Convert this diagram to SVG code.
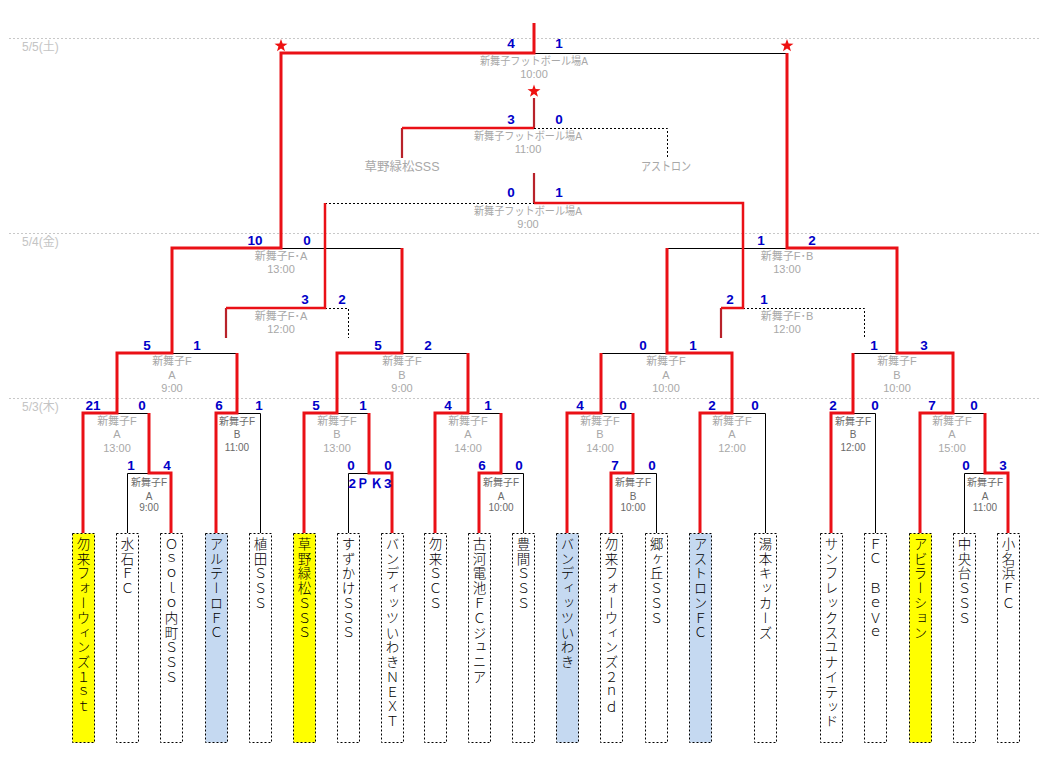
<svg xmlns="http://www.w3.org/2000/svg" width="1052" height="758" viewBox="0 0 1052 758">
<style>
.bg{fill:#fff}
.grid{stroke:#c8c8c8;stroke-width:1;stroke-dasharray:2 2;fill:none}
.date{font-family:"Liberation Sans","Noto Sans CJK JP",sans-serif;font-size:12px;fill:#c4c4c4}
.K{stroke:#000;stroke-width:1;fill:none}
.D{stroke:#000;stroke-width:1;stroke-dasharray:2 2;fill:none}
.R{stroke:#ea1016;stroke-width:3;fill:none}
.R2{stroke:#ea1016;stroke-width:2.5;fill:none}
.r{stroke:#b8222a;stroke-width:2.2;fill:none}
.sc{font-family:"Liberation Sans",sans-serif;font-weight:bold;font-size:13.5px;fill:#0000c8;text-anchor:middle}
.lb{font-family:"Liberation Sans","Noto Sans CJK JP",sans-serif;font-size:11px;fill:#a8a8a8;text-anchor:middle;dominant-baseline:central}
.dk{font-family:"Liberation Sans","Noto Sans CJK JP",sans-serif;font-size:10px;fill:#6a6a6a;text-anchor:middle;dominant-baseline:central}
.gt{font-family:"Liberation Sans","Noto Sans CJK JP",sans-serif;font-size:12.5px;fill:#a8a8a8;text-anchor:middle;dominant-baseline:central}
.box{stroke:#000;stroke-width:1;stroke-dasharray:2 2;fill:#fff}
.y{fill:#ffff00}
.b{fill:#c5d9f1}
.tm{font-family:"Noto Sans CJK JP",sans-serif;font-size:13.5px;font-weight:300;fill:#000;writing-mode:vertical-rl;letter-spacing:1.3px}
.star{fill:#ee1111}
</style>
<rect class="bg" x="0" y="0" width="1052" height="758"/>

<g id="dates">
<path class="grid" d="M9,38.5 H1040 M9,233.5 H1040 M9,398.5 H1040"/>
<text class="date" x="22" y="51">5/5(土)</text>
<text class="date" x="22" y="246">5/4(金)</text>
<text class="date" x="22" y="411">5/3(木)</text>
</g>

<g id="connectors">
<path class="K" d="M127.5,533 V473.5 H149 M149,413.5 H117 M237,413.5 H260.5 V533 M172,353.5 H237 M348.5,533 V473.5 H369 M337,413.5 H369 M501,473.5 H523.5 V533 M468,413.5 H501 M402,353.5 H468 M281,248.5 H402 M534,53.5 H787 M601,413.5 H633 M633,473.5 H656.5 V533 M732,413.5 H765.5 V533 M601,353.5 H667 M667,248.5 H787 M853,413.5 H875.5 V533 M964.5,533 V473.5 H985 M953,413.5 H985 M853,353.5 H897"/>
<path class="D" d="M325,308.5 H348.5 V338 M325,203.5 H534 M743,308.5 H864.5 V338 M534,128.5 H667.5 V158"/>
<path class="r" d="M226,338 V308 M721,338 V308 M534,173 V203 M402,158 V128 M534,98 V128"/>
<path class="R2" d="M226,308 H325 V203 M534,203 H743 V308 H721 M402,128 H534"/>
<path class="R" d="M83,533 V413 H117 V353 H172 V248 H281 V53 H534 V23 M171,533 V473 H149 V413 M216,533 V413 H237 V353 M304,533 V413 H337 V353 H402 V248 M392,533 V473 H369 V413 M435,533 V413 H468 V353 M479,533 V473 H501 V413 M567,533 V413 H601 V353 M611,533 V473 H633 V413 M700,533 V413 H732 V353 H667 V248 M831,533 V413 H853 V353 M920,533 V413 H953 V353 H897 V248 H787 V53 M1008,533 V473 H985 V413"/>
</g>

<g id="stars">
<polygon class="star" points="281,39 282.6,43.6 287.5,43.7 283.6,46.6 285,51.3 281,48.5 277,51.3 278.4,46.6 274.5,43.7 279.4,43.6"/>
<polygon class="star" points="787,39 788.6,43.6 793.5,43.7 789.6,46.6 791,51.3 787,48.5 783,51.3 784.4,46.6 780.5,43.7 785.4,43.6"/>
<polygon class="star" points="534,84.5 535.6,89.1 540.5,89.2 536.6,92.1 538,96.8 534,94 530,96.8 531.4,92.1 527.5,89.2 532.4,89.1"/>
</g>

<g id="m-final">
<text class="sc" x="511" y="48">4</text><text class="sc" x="559" y="48">1</text>
<text class="lb" x="534" y="61" textLength="108" lengthAdjust="spacingAndGlyphs">新舞子フットボール場A</text>
<text class="lb" x="534" y="74">10:00</text>
</g>
<g id="m-5th">
<text class="sc" x="511" y="124">3</text><text class="sc" x="559" y="124">0</text>
<text class="lb" x="528" y="136" textLength="108" lengthAdjust="spacingAndGlyphs">新舞子フットボール場A</text>
<text class="lb" x="528" y="149">11:00</text>
<text class="gt" x="402" y="167">草野緑松SSS</text>
<text class="gt" x="666" y="167" textLength="50" lengthAdjust="spacingAndGlyphs">アストロン</text>
</g>
<g id="m-3rd">
<text class="sc" x="511" y="197">0</text><text class="sc" x="559" y="197">1</text>
<text class="lb" x="528" y="211" textLength="108" lengthAdjust="spacingAndGlyphs">新舞子フットボール場A</text>
<text class="lb" x="528" y="224">9:00</text>
</g>

<g id="m-sf-left">
<text class="sc" x="255" y="245">10</text><text class="sc" x="307" y="245">0</text>
<text class="lb" x="281" y="256">新舞子F･A</text>
<text class="lb" x="281" y="269">13:00</text>
</g>
<g id="m-sf-right">
<text class="sc" x="761" y="245">1</text><text class="sc" x="812" y="245">2</text>
<text class="lb" x="787" y="256">新舞子F･B</text>
<text class="lb" x="787" y="269">13:00</text>
</g>
<g id="m-cons-left">
<text class="sc" x="305" y="304">3</text><text class="sc" x="342" y="304">2</text>
<text class="lb" x="281" y="316">新舞子F･A</text>
<text class="lb" x="281" y="329">12:00</text>
</g>
<g id="m-cons-right">
<text class="sc" x="730" y="304">2</text><text class="sc" x="764" y="304">1</text>
<text class="lb" x="787" y="316">新舞子F･B</text>
<text class="lb" x="787" y="329">12:00</text>
</g>

<g id="m-r2-1">
<text class="sc" x="147" y="350">5</text><text class="sc" x="197" y="350">1</text>
<text class="lb" x="172" y="361">新舞子F</text><text class="lb" x="172" y="375">A</text><text class="lb" x="172" y="388">9:00</text>
</g>
<g id="m-r2-2">
<text class="sc" x="378" y="350">5</text><text class="sc" x="428" y="350">2</text>
<text class="lb" x="402" y="361">新舞子F</text><text class="lb" x="402" y="375">B</text><text class="lb" x="402" y="388">9:00</text>
</g>
<g id="m-r2-3">
<text class="sc" x="643" y="350">0</text><text class="sc" x="693" y="350">1</text>
<text class="lb" x="666" y="361">新舞子F</text><text class="lb" x="666" y="375">A</text><text class="lb" x="666" y="388">10:00</text>
</g>
<g id="m-r2-4">
<text class="sc" x="874" y="350">1</text><text class="sc" x="924" y="350">3</text>
<text class="lb" x="897" y="361">新舞子F</text><text class="lb" x="897" y="375">B</text><text class="lb" x="897" y="388">10:00</text>
</g>

<g id="m-r1-1">
<text class="sc" x="93" y="410">21</text><text class="sc" x="142" y="410">0</text>
<text class="lb" x="117" y="421">新舞子F</text><text class="lb" x="117" y="434">A</text><text class="lb" x="117" y="448">13:00</text>
</g>
<g id="m-r1-2">
<text class="sc" x="219" y="410">6</text><text class="sc" x="259" y="410">1</text>
<text class="dk" x="237" y="421">新舞子F</text><text class="dk" x="237" y="434">B</text><text class="dk" x="237" y="447">11:00</text>
</g>
<g id="m-r1-3">
<text class="sc" x="316" y="410">5</text><text class="sc" x="363" y="410">1</text>
<text class="lb" x="337" y="421">新舞子F</text><text class="lb" x="337" y="434">B</text><text class="lb" x="337" y="448">13:00</text>
</g>
<g id="m-r1-4">
<text class="sc" x="448" y="410">4</text><text class="sc" x="488" y="410">1</text>
<text class="lb" x="468" y="421">新舞子F</text><text class="lb" x="468" y="434">A</text><text class="lb" x="468" y="448">14:00</text>
</g>
<g id="m-r1-5">
<text class="sc" x="580" y="410">4</text><text class="sc" x="623" y="410">0</text>
<text class="lb" x="600" y="421">新舞子F</text><text class="lb" x="600" y="434">B</text><text class="lb" x="600" y="448">14:00</text>
</g>
<g id="m-r1-6">
<text class="sc" x="712" y="410">2</text><text class="sc" x="755" y="410">0</text>
<text class="lb" x="732" y="421">新舞子F</text><text class="lb" x="732" y="434">A</text><text class="lb" x="732" y="448">12:00</text>
</g>
<g id="m-r1-7">
<text class="sc" x="833" y="410">2</text><text class="sc" x="875" y="410">0</text>
<text class="dk" x="853" y="421">新舞子F</text><text class="dk" x="853" y="434">B</text><text class="dk" x="853" y="447">12:00</text>
</g>
<g id="m-r1-8">
<text class="sc" x="932" y="410">7</text><text class="sc" x="974" y="410">0</text>
<text class="lb" x="952" y="421">新舞子F</text><text class="lb" x="952" y="434">A</text><text class="lb" x="952" y="448">15:00</text>
</g>

<g id="m-sub-1">
<text class="sc" x="131" y="470">1</text><text class="sc" x="167" y="470">4</text>
<text class="dk" x="149" y="482">新舞子F</text><text class="dk" x="149" y="496">A</text><text class="dk" x="149" y="507">9:00</text>
</g>
<g id="m-sub-2">
<text class="sc" x="351" y="470">0</text><text class="sc" x="388" y="470">0</text>
<text class="sc" x="370" y="488">2ＰＫ3</text>
</g>
<g id="m-sub-3">
<text class="sc" x="482" y="470">6</text><text class="sc" x="519" y="470">0</text>
<text class="dk" x="501" y="482">新舞子F</text><text class="dk" x="501" y="496">A</text><text class="dk" x="501" y="507">10:00</text>
</g>
<g id="m-sub-4">
<text class="sc" x="615" y="470">7</text><text class="sc" x="652" y="470">0</text>
<text class="dk" x="633" y="482">新舞子F</text><text class="dk" x="633" y="496">B</text><text class="dk" x="633" y="507">10:00</text>
</g>
<g id="m-sub-5">
<text class="sc" x="966" y="470">0</text><text class="sc" x="1003" y="470">3</text>
<text class="dk" x="985" y="482">新舞子F</text><text class="dk" x="985" y="496">A</text><text class="dk" x="985" y="507">11:00</text>
</g>

<g id="t01"><rect class="box y" x="72.5" y="533.5" width="22" height="209"/><text class="tm" x="83.5" y="537">勿来フォーウィンズ１ｓｔ</text></g>
<g id="t02"><rect class="box" x="116.5" y="533.5" width="22" height="209"/><text class="tm" x="127.5" y="537">水石ＦＣ</text></g>
<g id="t03"><rect class="box" x="160.5" y="533.5" width="22" height="209"/><text class="tm" x="171.5" y="537">Ｏｓｏｌｏ内町ＳＳＳ</text></g>
<g id="t04"><rect class="box b" x="205.5" y="533.5" width="22" height="209"/><text class="tm" x="216.5" y="537">アルテーロＦＣ</text></g>
<g id="t05"><rect class="box" x="249.5" y="533.5" width="22" height="209"/><text class="tm" x="260.5" y="537">植田ＳＳＳ</text></g>
<g id="t06"><rect class="box y" x="293.5" y="533.5" width="22" height="209"/><text class="tm" x="304.5" y="537">草野緑松ＳＳＳ</text></g>
<g id="t07"><rect class="box" x="337.5" y="533.5" width="22" height="209"/><text class="tm" x="348.5" y="537">すずかけＳＳＳ</text></g>
<g id="t08"><rect class="box" x="381.5" y="533.5" width="22" height="209"/><text class="tm" x="392.5" y="537">バンディッツいわきＮＥＸＴ</text></g>
<g id="t09"><rect class="box" x="424.5" y="533.5" width="22" height="209"/><text class="tm" x="435.5" y="537">勿来ＳＣＳ</text></g>
<g id="t10"><rect class="box" x="468.5" y="533.5" width="22" height="209"/><text class="tm" x="479.5" y="537">古河電池ＦＣジュニア</text></g>
<g id="t11"><rect class="box" x="512.5" y="533.5" width="22" height="209"/><text class="tm" x="523.5" y="537">豊間ＳＳＳ</text></g>
<g id="t12"><rect class="box b" x="556.5" y="533.5" width="22" height="209"/><text class="tm" x="567.5" y="537">バンディッツいわき</text></g>
<g id="t13"><rect class="box" x="600.5" y="533.5" width="22" height="209"/><text class="tm" x="611.5" y="537">勿来フォーウィンズ２ｎｄ</text></g>
<g id="t14"><rect class="box" x="645.5" y="533.5" width="22" height="209"/><text class="tm" x="656.5" y="537">郷ヶ丘ＳＳＳ</text></g>
<g id="t15"><rect class="box b" x="689.5" y="533.5" width="22" height="209"/><text class="tm" x="700.5" y="537">アストロンＦＣ</text></g>
<g id="t16"><rect class="box" x="754.5" y="533.5" width="22" height="209"/><text class="tm" x="765.5" y="537">湯本キッカーズ</text></g>
<g id="t17"><rect class="box" x="820.5" y="533.5" width="22" height="209"/><text class="tm" x="831.5" y="537">サンフレックスユナイテッド</text></g>
<g id="t18"><rect class="box" x="864.5" y="533.5" width="22" height="209"/><text class="tm" x="875.5" y="537">ＦＣ　ＢｅＶｅ</text></g>
<g id="t19"><rect class="box y" x="909.5" y="533.5" width="22" height="209"/><text class="tm" x="920.5" y="537">アビラーション</text></g>
<g id="t20"><rect class="box" x="953.5" y="533.5" width="22" height="209"/><text class="tm" x="964.5" y="537">中央台ＳＳＳ</text></g>
<g id="t21"><rect class="box" x="997.5" y="533.5" width="22" height="209"/><text class="tm" x="1008.5" y="537">小名浜ＦＣ</text></g>
</svg>
